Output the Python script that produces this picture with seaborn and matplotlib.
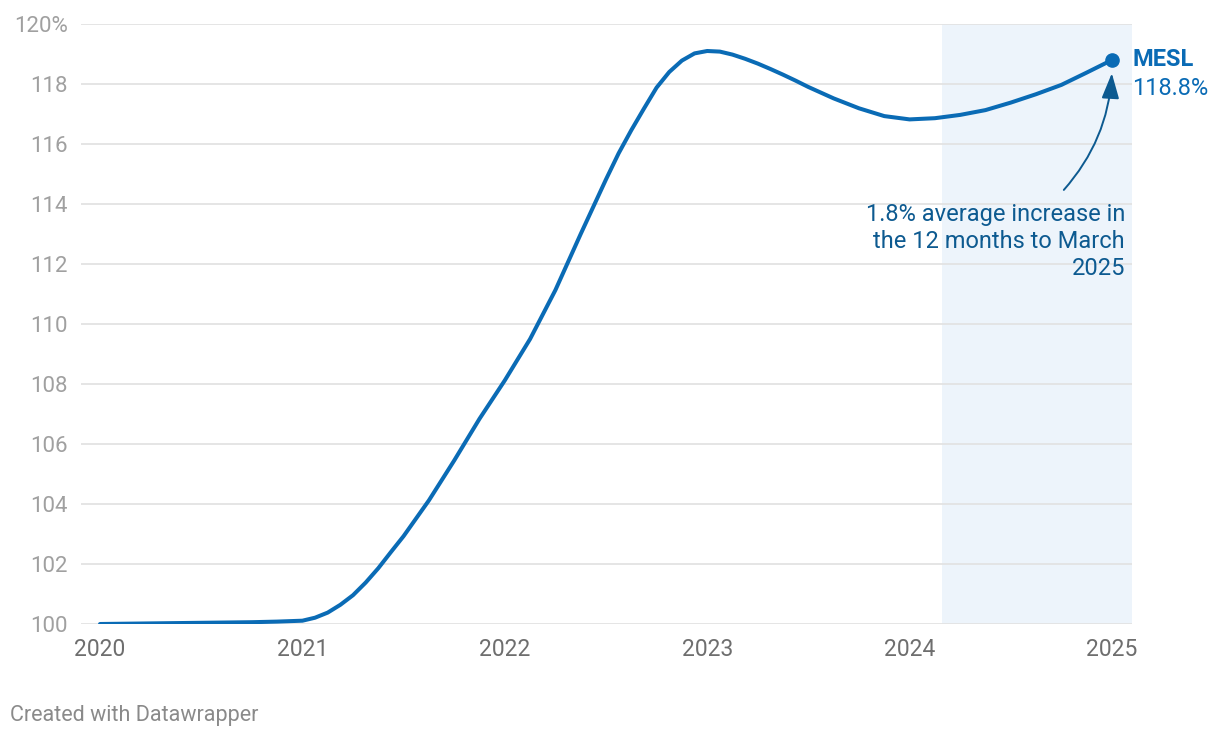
import pandas as pd
import matplotlib.pyplot as plt
import seaborn as sns

# ── Data (finer steps where the curve bends) ──────────────────────────────
years = [2020.0, 2020.125, 2020.25, 2020.375, 2020.5, 2020.625, 2020.75, 2020.875,
         2021.0, 2021.0625, 2021.125, 2021.1875, 2021.25, 2021.3125, 2021.375, 2021.4375,
         2021.5, 2021.625, 2021.75, 2021.875,
         2022.0, 2022.125, 2022.25, 2022.375, 2022.5, 2022.5625, 2022.625, 2022.6875,
         2022.75, 2022.8125, 2022.875, 2022.9375,
         2023.0, 2023.0625, 2023.125, 2023.1875, 2023.25, 2023.3125, 2023.375, 2023.4375,
         2023.5, 2023.625, 2023.75, 2023.875,
         2024.0, 2024.125, 2024.25, 2024.375, 2024.5, 2024.625, 2024.75, 2024.875,
         2025.0]
mesl = [100.0, 100.01, 100.02, 100.03, 100.04, 100.05, 100.06, 100.08,
        100.11, 100.21, 100.38, 100.64, 100.96, 101.38, 101.86, 102.4,
        102.93, 104.12, 105.45, 106.84,
        108.12, 109.5, 111.13, 113.0, 114.82, 115.69, 116.46, 117.18,
        117.88, 118.4, 118.78, 119.02,
        119.1, 119.08, 118.98, 118.84, 118.68, 118.5, 118.31, 118.11,
        117.9, 117.52, 117.19, 116.93,
        116.82, 116.86, 116.97, 117.13, 117.38, 117.66, 117.97, 118.38,
        118.8]

x_ticks = [2020, 2021, 2022, 2023, 2024, 2025]
y_ticks = [100, 102, 104, 106, 108, 110, 112, 114, 116, 118, 120]
y_labels = ['100', '102', '104', '106', '108', '110', '112', '114', '116', '118', '120%']

shade_start = 2024.16
last_value = mesl[-1]

df = pd.DataFrame({'year': years, 'mesl': mesl})

# ── Style ─────────────────────────────────────────────────────────────────
sns.set_theme(style='white')
plt.rcParams['font.family'] = ['Roboto', 'DejaVu Sans']

blue = '#0a6bb5'
dark_blue = '#0d5a90'

fig = plt.figure(figsize=(12.2, 7.4), dpi=100)
ax = fig.add_axes([81 / 1220, 1 - 624 / 740, (1132 - 81) / 1220, 600 / 740])

ax.axvspan(shade_start, 2025.099, color='#edf4fb', zorder=0, lw=0)
for yv in y_ticks:
    ax.axhline(yv, color='#e3e3e3', lw=1.3, zorder=1)

sns.lineplot(data=df, x='year', y='mesl', color=blue, linewidth=2.9, ax=ax, zorder=3)
ax.plot([years[-1]], [last_value], 'o', color=blue, markersize=9.5, zorder=4)

ax.set_xlim(2019.906, 2025.099)
ax.set_ylim(100, 120)
ax.set_xticks(x_ticks)
ax.set_xticklabels([str(t) for t in x_ticks])
ax.set_yticks(y_ticks)
ax.set_yticklabels(y_labels)
ax.tick_params(axis='y', length=0, pad=9.5, labelsize=16, labelcolor='#a0a0a0')
ax.tick_params(axis='x', length=0, pad=10, labelsize=16.5, labelcolor='#6e6e6e')
ax.set_xlabel('')
ax.set_ylabel('')
for s in ax.spines.values():
    s.set_visible(False)

# ── Labels & annotation ───────────────────────────────────────────────────
ax.annotate('MESL', xy=(2025.1, last_value), ha='left', va='center', fontsize=17,
            fontweight='bold', color=blue, annotation_clip=False)
ax.annotate(f'{last_value}%', xy=(2025.1, last_value - 0.95), ha='left', va='center',
            fontsize=17, color=blue, annotation_clip=False)

ax.annotate('', xy=(2025.0, 118.45), xytext=(2024.753, 114.4),
            arrowprops=dict(arrowstyle='-|>,head_length=1.3,head_width=0.45',
                            connectionstyle='arc3,rad=0.18', color=dark_blue, lw=1.4))
ax.text(2025.064, 114.02, '1.8% average increase in\nthe 12 months to March\n2025',
        ha='right', va='top', fontsize=17, color=dark_blue, linespacing=1.2)

fig.text(10 / 1220, 1 - 716 / 740, 'Created with Datawrapper', ha='left', va='center',
         fontsize=15.5, color='#8a8a8a')

fig.savefig('out.png', dpi=100)
